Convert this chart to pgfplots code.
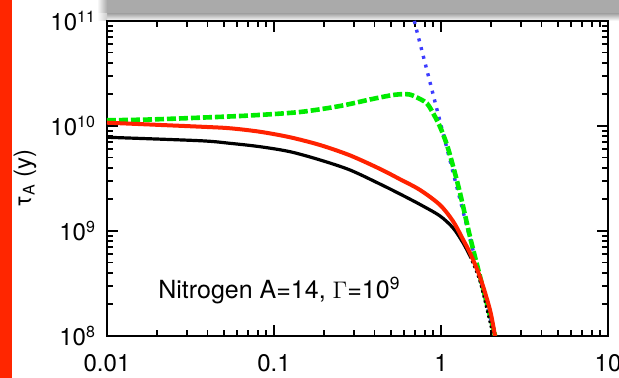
\documentclass[border=0pt]{standalone}
\usepackage{pgfplots}
\pgfplotsset{compat=1.18}
\usepackage{fontspec}
\setmainfont{TeX Gyre Heros}
\definecolor{barred}{RGB}{255,38,0}
\definecolor{cred}{RGB}{255,34,0}
\definecolor{cgreen}{RGB}{0,235,0}
\definecolor{cblue}{RGB}{60,60,255}
\definecolor{shadow}{RGB}{170,170,170}
\begin{document}
\begin{tikzpicture}
% decorations (1px = 0.5pt; axis box = 250.5pt x 157.5pt at origin)
\fill[barred] (-53.5pt,-21pt) rectangle (-47.7pt,168pt);
\fill[shadow] (0pt,161pt) rectangle (256pt,168pt);
\shade[top color=shadow, bottom color=white] (0pt,157.6pt) rectangle (256pt,161pt);
\shade[left color=white, right color=shadow] (-5pt,161pt) rectangle (0pt,168pt);
\shade[left color=white, right color=shadow!60] (-5pt,157.6pt) rectangle (0pt,161pt);
\begin{axis}[
  scale only axis, width=250.5pt, height=157.5pt,
  at={(0,0)}, anchor=south west,
  xmode=log, ymode=log,
  xmin=0.01, xmax=10, ymin=1e8, ymax=1e11,
  xtick={0.01,0.1,1,10}, xticklabels={0.01,0.1,1,10},
  ytick={1e8,1e9,1e10,1e11},
  yticklabels={10\textsuperscript{8},10\textsuperscript{9},10\textsuperscript{10},10\textsuperscript{11}},
  minor xtick={0.02,0.03,0.04,0.05,0.06,0.07,0.08,0.09,0.2,0.3,0.4,0.5,0.6,0.7,0.8,0.9,2,3,4,5,6,7,8,9},
  minor ytick={2e8,3e8,4e8,5e8,6e8,7e8,8e8,9e8,2e9,3e9,4e9,5e9,6e9,7e9,8e9,9e9,2e10,3e10,4e10,5e10,6e10,7e10,8e10,9e10},
  major tick length=5.5pt, minor tick length=2.8pt,
  tick style={line width=0.9pt, black},
  axis line style={line width=1pt},
  tick align=inside,
  ticklabel style={font=\fontsize{12}{14}\selectfont},
  label style={font=\fontsize{12}{14}\selectfont},
  ylabel={τ\textsubscript{A} (y)},
  ylabel style={at={(axis description cs:-0.1637,0.5)}, anchor=center},
  xticklabel style={yshift=-5.5pt},
  yticklabel style={xshift=-2pt},
]
% blue dotted asymptote
\addplot[cblue, line width=1.7pt, dash pattern=on 1.5pt off 3pt] coordinates {(0.692,1e11) (2.105,1e8)};
% green dashed
\addplot[cgreen, line width=2.3pt, dash pattern=on 4.5pt off 1.5pt, smooth, tension=0.5] coordinates {
(0.01,1.133e10) (0.01809,1.153e10) (0.036,1.2e10) (0.07184,1.259e10) (0.1431,1.359e10)
(0.2484,1.55e10) (0.3757,1.788e10) (0.4951,1.952e10) (0.5682,2.004e10) (0.6522,1.991e10)
(0.7485,1.808e10) (0.8245,1.638e10) (0.8956,1.33e10) (0.9863,9.85e9) (1.086,6.59e9)
(1.18,4.16e9) (1.30,2.3e9) (1.5,8.5e8) (1.8,2.7e8) (2.11,1e8)};
% black solid
\addplot[black, line width=1.6pt, smooth, tension=0.5] coordinates {
(0.01,7.81e9) (0.036,7.24e9) (0.05452,6.84e9) (0.08244,6.35e9) (0.1247,5.69e9)
(0.1885,4.75e9) (0.2851,3.81e9) (0.4312,2.80e9) (0.5682,2.25e9) (0.7485,1.79e9)
(0.9863,1.39e9) (1.1851,1.061e9) (1.3597,7.64e8) (1.4918,5.78e8)};
\addplot[black, line width=1.6pt, dash pattern=on 1.2pt off 1.4pt, smooth] coordinates {
(1.4918,5.78e8) (1.7122,3.34e8) (2.0206,1.14e8) (2.077,1.0e8)};
% red solid
\addplot[cred, line width=2pt, smooth, tension=0.5] coordinates {
(0.01,1.075e10) (0.036,9.85e9) (0.05452,9.51e9) (0.08244,8.81e9) (0.1247,7.81e9)
(0.1885,6.59e9) (0.2851,5.25e9) (0.4312,3.9e9) (0.5682,3.11e9) (0.7485,2.46e9)
(0.9863,1.77e9) (1.1851,1.226e9) (1.3597,8.21e8) (1.4918,6.17e8) (1.7122,3.65e8)
(1.9655,1.77e8) (2.1057,1.0e8)};
\node[anchor=base west, inner sep=0, font=\fontsize{12.5}{14}\selectfont] at (axis cs:0.0202,2.3e8) {Nitrogen A=14, $\Gamma$=10\textsuperscript{9}};
\end{axis}
\pgfresetboundingbox
\path[use as bounding box] (-53.5pt,-21pt) rectangle (256pt,168pt);
\end{tikzpicture}
\end{document}
